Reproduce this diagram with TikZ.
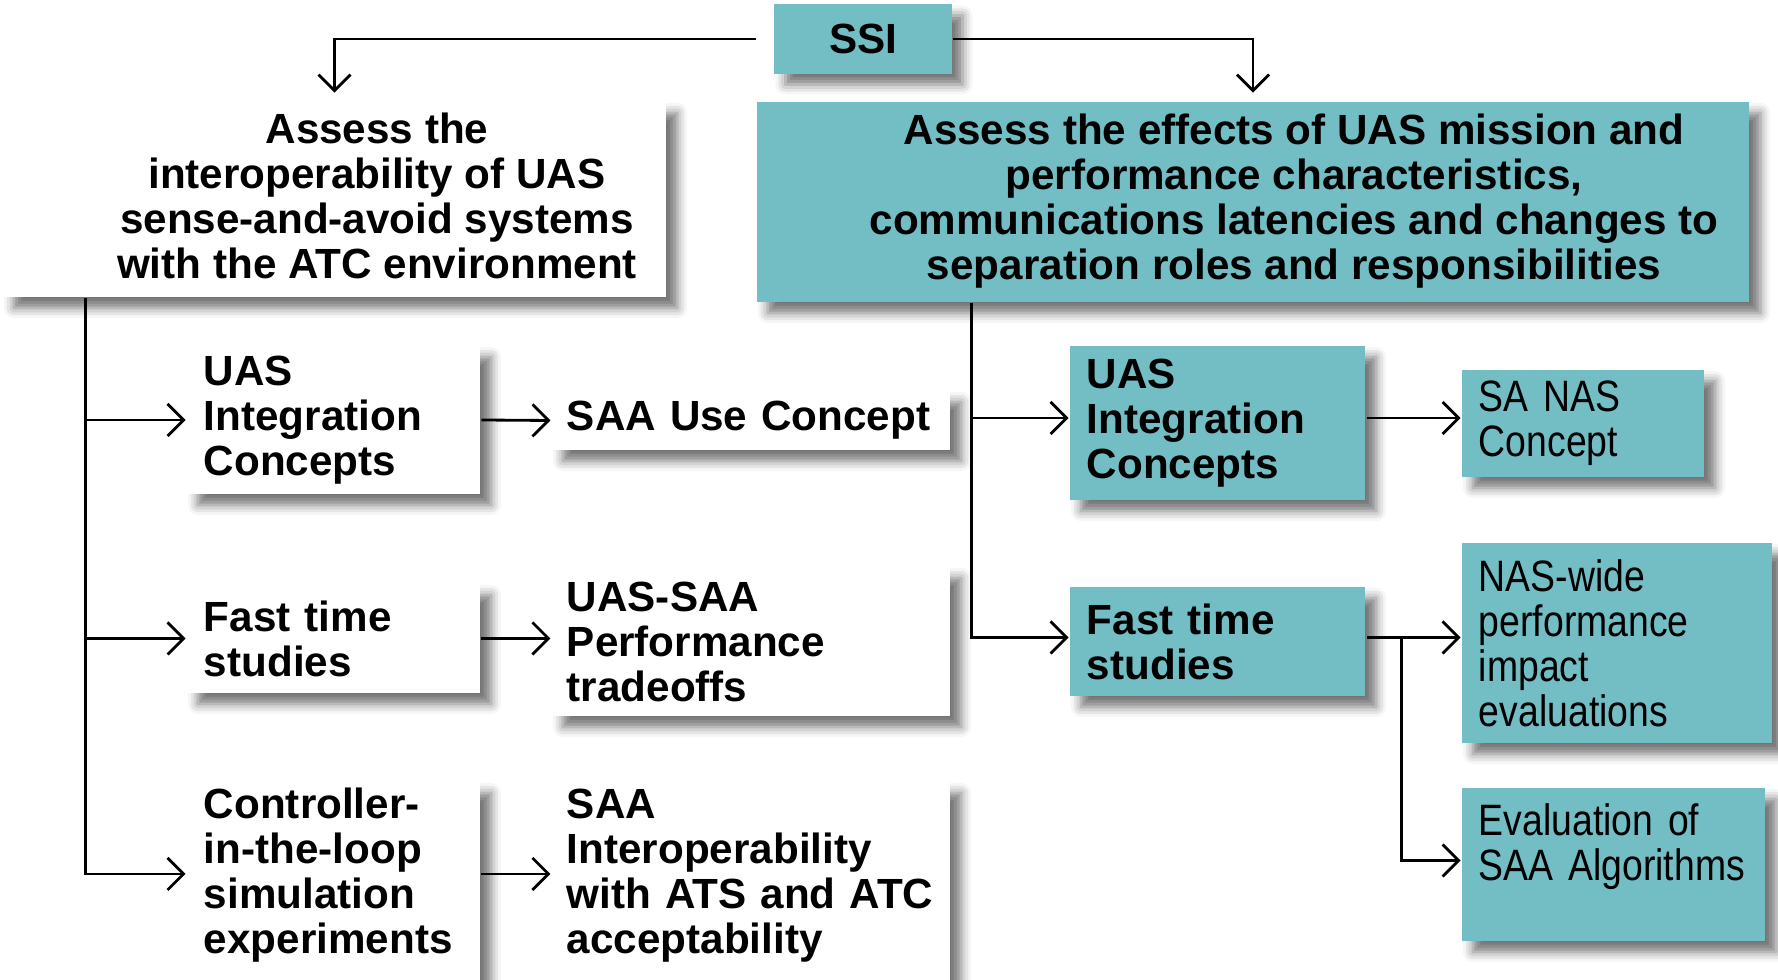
\documentclass[tikz,border=0pt]{standalone}
\usepackage{fontspec}
\setmainfont{Liberation Sans}
\newfontfamily\narrowsans[FakeStretch=0.85]{Liberation Sans}
\protected\def\thinfont{\narrowsans\fontsize{12.5}{12.8}\selectfont\spaceskip=0.2em\relax}
\usetikzlibrary{arrows.meta, shadows.blur}
\definecolor{ssiteal}{RGB}{114,190,196}

\begin{document}
\begin{tikzpicture}[x=0.01cm, y=-0.01cm,
                    cbox/.style={rectangle, inner xsep=0.17cm, inner ysep=0pt, align=left,
                                 font=\bfseries\fontsize{12}{12.8}\selectfont,
                                 blur shadow={shadow xshift=0.11cm, shadow yshift=-0.11cm,
                                              shadow blur radius=0.1cm, shadow opacity=55}},
                    whitebox/.style={cbox, fill=white},
                    tealbox/.style={cbox, fill=ssiteal},
                    thinbox/.style={tealbox, font=\thinfont},
                    boxtext/.style={inner sep=0pt, align=center,
                                    font=\bfseries\fontsize{12}{12.8}\selectfont},
                    line width=0.8pt, >={Straight Barb[length=1.6mm, width=3.2mm]}]

\useasboundingbox (0,0) rectangle (1778,980);

% Nodes
\node (ssi) [tealbox, align=center, minimum width=1.77cm, minimum height=0.69cm] at (863,39) {SSI};
\node (goalL) [whitebox, minimum width=6.63cm, minimum height=1.95cm] at (334.5,199.5) {};
\node (goalLtext) [boxtext] at (377,196) {Assess the\\interoperability of UAS\\sense-and-avoid systems\\with the ATC environment};
\node (goalR) [tealbox, minimum width=9.92cm, minimum height=2cm] at (1253,202) {};
\node (goalRtext) [boxtext] at (1294,201) {Assess the effects of UAS mission and\\performance characteristics,\\communications latencies and changes to\\separation roles and responsibilities};

\node (uicL) [whitebox, minimum width=2.93cm, minimum height=1.48cm, text width=2.59cm] at (333.5,420) {UAS\\Integration\\Concepts};
\node (ftsL) [whitebox, minimum width=2.93cm, minimum height=1.09cm, text width=2.59cm] at (333.5,638.5) {Fast time\\studies};
\node (citlL) [whitebox, minimum width=2.93cm, minimum height=2.08cm, text width=2.59cm] at (333.5,886) {Controller-\\in-the-loop\\simulation\\experiments\\[-0.15cm]\mbox{}};

\node (sucM) [whitebox, inner xsep=0.15cm, minimum width=3.98cm, minimum height=0.59cm, text width=3.68cm] at (751,420.5) {SAA Use Concept};
\node (ptM) [whitebox, inner xsep=0.15cm, minimum width=3.98cm, minimum height=1.49cm, text width=3.68cm] at (751,641.5) {UAS-SAA\\Performance\\tradeoffs};
\node (siM) [whitebox, inner xsep=0.15cm, minimum width=3.98cm, minimum height=2.08cm, text width=3.68cm] at (751,886) {SAA\\Interoperability\\with ATS and ATC\\acceptability\\[-0.15cm]\mbox{}};

\node (uicR) [tealbox, minimum width=2.95cm, minimum height=1.54cm, text width=2.61cm] at (1217.5,423) {UAS\\Integration\\Concepts};
\node (ftsR) [tealbox, minimum width=2.95cm, minimum height=1.09cm, text width=2.61cm] at (1217.5,641.5) {Fast time\\studies};
\node (sanR) [thinbox, minimum width=2.42cm, minimum height=1.07cm, text width=2.08cm] at (1583,423.5) {SA NAS\\Concept};
\node (nwR) [thinbox, minimum width=3.10cm, minimum height=2cm, text width=2.76cm] at (1617,643) {NAS-wide\\performance\\impact\\evaluations};
\node (evR) [thinbox, minimum width=3.03cm, minimum height=1.53cm, text width=2.69cm] at (1613.5,864.5) {Evaluation of\\SAA Algorithms\\\mbox{}};

% Edges
\draw[->, shorten <=0.17cm, shorten >=0.08cm] (ssi.west) -| (goalL.north);
\draw[->, shorten >=0.08cm] (ssi.east) -| (goalR.north);

\draw[->] ([xshift=0.84cm]goalL.south west) |- (uicL.west);
\draw[->] ([xshift=0.84cm]goalL.south west) |- (ftsL.west);
\draw[->] ([xshift=0.84cm]goalL.south west) |- ([yshift=0.12cm]citlL.west);
\draw[->] (uicL.east) -- (sucM.west);
\draw[->] (ftsL.east) -- (ftsL.east -| ptM.west);
\draw[->] ([yshift=0.12cm]citlL.east) -- ([yshift=0.12cm]siM.west);

\draw[->] ([xshift=2.16cm]goalR.south west) |- ([yshift=0.05cm]uicR.west);
\draw[->] ([xshift=2.16cm]goalR.south west) |- ([yshift=0.04cm]ftsR.west);
\draw[->] ([yshift=0.05cm]uicR.east) -- ([yshift=0.05cm]uicR.east -| sanR.west);
\draw[->] ([yshift=0.04cm]ftsR.east) -- ([yshift=0.04cm]ftsR.east -| nwR.west);
\coordinate (split) at ([xshift=0.35cm, yshift=0.04cm]ftsR.east);
\draw[->] (split) |- ([yshift=0.04cm]evR.west);

\end{tikzpicture}
\end{document}
